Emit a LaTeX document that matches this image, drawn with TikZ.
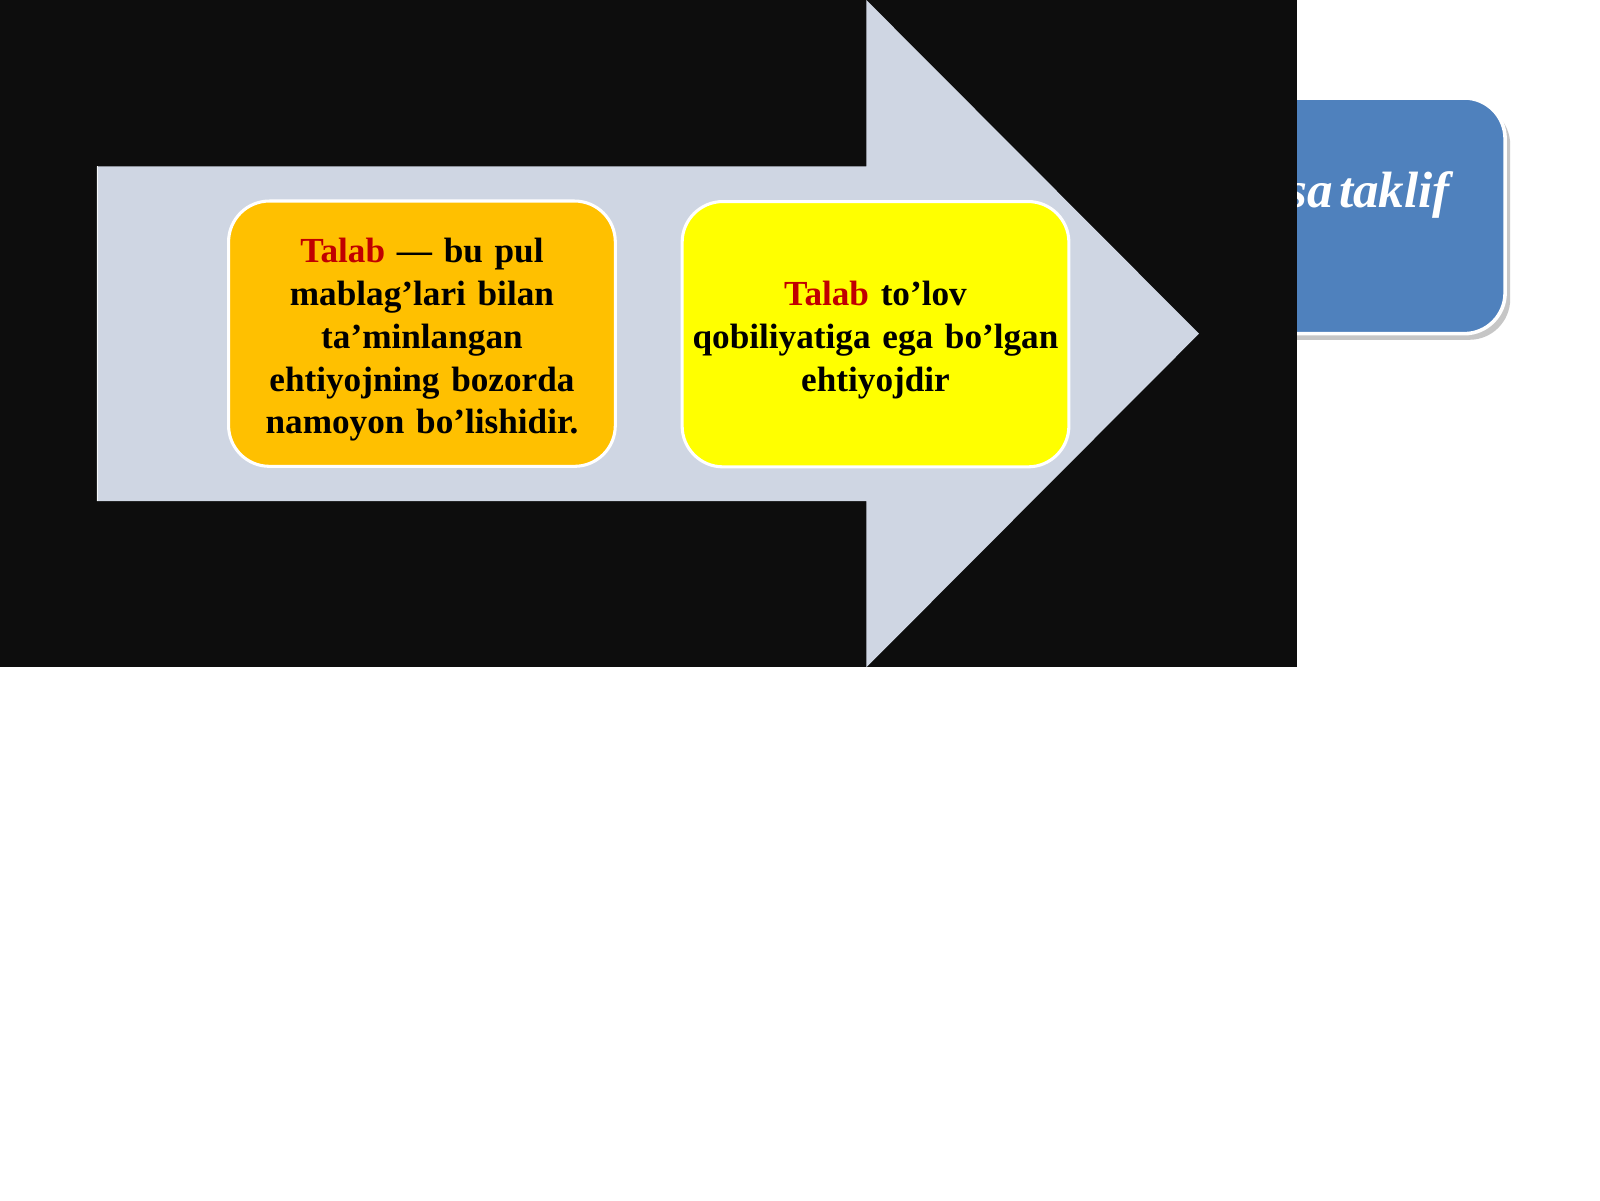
\documentclass[tikz,border=0pt]{standalone}
\usepackage{fontspec}
\setmainfont{Liberation Serif}
\definecolor{bgblack}{HTML}{0D0D0D}
\definecolor{arrowfill}{HTML}{CFD6E3}
\definecolor{boxorange}{HTML}{FFC000}
\definecolor{boxyellow}{HTML}{FFFF00}
\definecolor{talabred}{HTML}{C00000}
\definecolor{boxblue}{HTML}{4F81BD}
\begin{document}
\begin{tikzpicture}[x=1pt,y=-1pt,
  textbox/.style={draw=white, line width=3pt, rounded corners=40pt,
    minimum width=379pt, minimum height=260pt, inner sep=0pt},
  boxtext/.style={align=center, text width=370pt,
    font=\fontsize{34.5}{42}\selectfont\bfseries, inner sep=0pt}]
\useasboundingbox[fill=white] (0,0) rectangle (1568,1176);
% blue box (partly hidden)
\fill[gray!45, rounded corners=40pt] (1160,102) rectangle (1480,333);
\draw[fill=boxblue, draw=white, line width=3.5pt, rounded corners=40pt] (1150,96) rectangle (1475,327);
\node[anchor=base east, text=white, font=\fontsize{50}{60}\selectfont\bfseries\itshape, inner sep=0pt] (blue) at (1421,203) {sa\hspace{0.12em}taklif};
% black panel
\fill[bgblack] (0,0) rectangle (1271,654);
% arrow
\fill[arrowfill] (95,163) -- (849,163) -- (849,0) -- (1175,327) -- (849,654) -- (849,491) -- (95,491) -- cycle;
\draw[white!80!arrowfill, line width=1pt] (95.5,491) -- (95.5,163);
% boxes
\node[textbox, fill=boxorange] (orange) at (413.5,327) {};
\node[boxtext] (orangetext) at ([yshift=-6pt]orange.center) {\textcolor{talabred}{Talab} — bu pul\\ mablag’lari bilan\\ ta’minlangan\\ ehtiyojning bozorda\\ namoyon bo’lishidir.};
\node[textbox, fill=boxyellow] (yellow) at (858,327.5) {};
\node[boxtext] (yellowtext) at ([yshift=-6pt]yellow.center) {\textcolor{talabred}{Talab} to’lov\\ qobiliyatiga ega bo’lgan\\ ehtiyojdir};
\end{tikzpicture}
\end{document}
